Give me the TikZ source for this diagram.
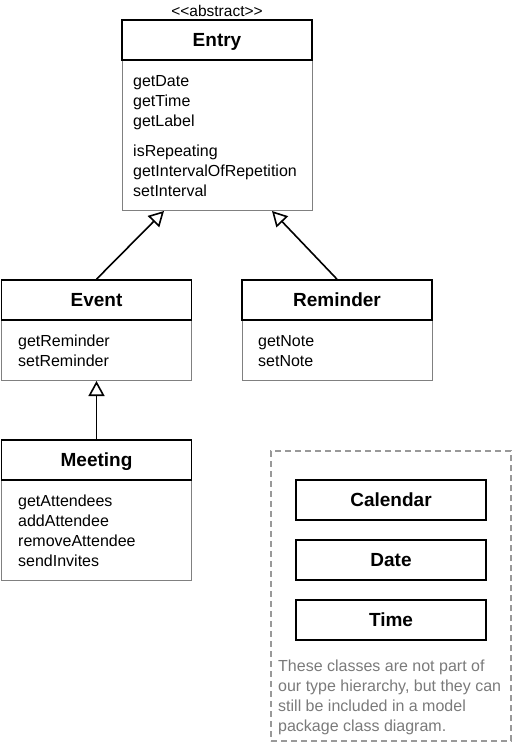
\documentclass[tikz,border=0pt]{standalone}
\usepackage{fontspec}
\setmainfont{Liberation Sans}
\usetikzlibrary{arrows.meta}
\definecolor{bodygray}{HTML}{808080}
\definecolor{notegray}{HTML}{7A7A7A}
\definecolor{dashgray}{HTML}{999999}
\tikzset{
  hdr/.style={draw=black, line width=1.6pt, fill=white, minimum width=190pt, minimum height=40pt,
    inner sep=0pt, font=\fontsize{19}{22}\selectfont\bfseries, text height=13.6pt, text depth=0pt},
  bodybox/.style={draw=bodygray, line width=1pt, fill=white, minimum width=190pt, inner sep=0pt, anchor=north},
  meth/.style={font=\fontsize{16}{20}\selectfont, inner sep=0pt, anchor=base west},
  inh/.style={draw=black, line width=1.6pt, -{Triangle[open, length=15pt, width=16pt, fill=white, line width=1.6pt]}},
  notetext/.style={font=\fontsize{16}{20}\selectfont, text=notegray, inner sep=0pt, anchor=base west},
  stereo/.style={font=\fontsize{15.5}{16}\selectfont, inner sep=0pt, anchor=base}
}
\begin{document}
\begin{tikzpicture}[x=1pt,y=-1pt]
\useasboundingbox (0,0) rectangle (512,742);
% package box
\node[draw=dashgray, dashed, dash pattern=on 6pt off 4pt, line width=1.2pt, minimum width=240pt, minimum height=290pt, inner sep=0pt] (pkg) at (391,596) {};
% Entry
\node[bodybox, minimum height=150pt] (entryB) at (217,60) {};
\node[hdr] (entry) at (217,40) {Entry};
\node[stereo] (entryS) at (217,16) {<\kern0pt<abstract>\kern0pt>};
\foreach \t [count=\i] in {getDate,getTime,getLabel}
  \node[meth] (entryM\i) at (133,66.5+20*\i) {\t};
\foreach \t [count=\i] in {isRepeating,getIntervalOfRepetition,setInterval}
  \node[meth] (entryN\i) at (133,136.5+20*\i) {\t};
% Event
\node[bodybox, minimum height=60pt] (eventB) at (96.5,320) {};
\node[hdr] (event) at (96.5,300) {Event};
\foreach \t [count=\i] in {getReminder,setReminder}
  \node[meth] (eventM\i) at (18,326.5+20*\i) {\t};
% Reminder
\node[bodybox, minimum height=60pt] (remB) at (337,320) {};
\node[hdr] (rem) at (337,300) {Reminder};
\foreach \t [count=\i] in {getNote,setNote}
  \node[meth] (remM\i) at (258,326.5+20*\i) {\t};
% Meeting
\node[bodybox, minimum height=100pt] (meetB) at (96.5,480) {};
\node[hdr] (meet) at (96.5,460) {Meeting};
\foreach \t [count=\i] in {getAttendees,addAttendee,removeAttendee,sendInvites}
  \node[meth] (meetM\i) at (18,486.5+20*\i) {\t};
% package classes
\node[hdr] (cal) at (391,500) {Calendar};
\node[hdr] (date) at (391,560) {Date};
\node[hdr] (time) at (391,620) {Time};
\foreach \t [count=\i] in {These classes are not part of,{our type hierarchy, but they can},still be included in a model,package class diagram.}
  \node[notetext] (note\i) at (278,651+20*\i) {\t};
% inheritance
\draw[inh] (event.north) -- ([xshift=-53pt]entryB.south);
\draw[inh] (rem.north) -- ([xshift=55pt]entryB.south);
\draw[inh] (meet.north) -- (eventB.south);
\end{tikzpicture}
\end{document}
